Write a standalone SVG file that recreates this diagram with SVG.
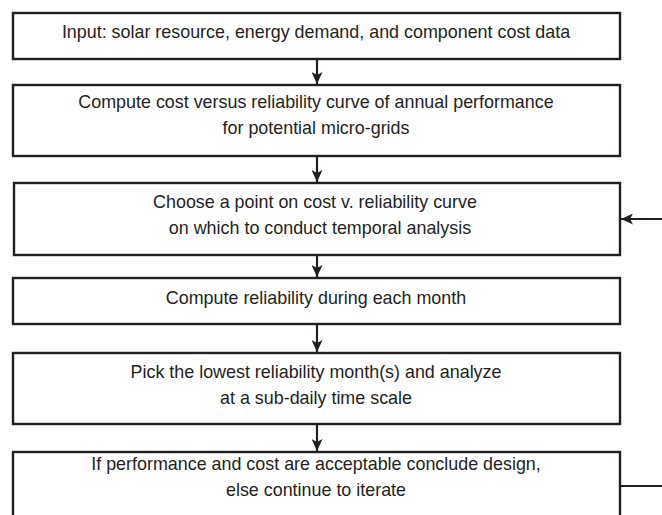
<svg xmlns="http://www.w3.org/2000/svg" width="662" height="515" viewBox="0 0 662 515">
  <style>
    .box { fill: #ffffff; stroke: #231f20; stroke-width: 2.4; }
    .label { font-family: "Liberation Sans", Arial, sans-serif; font-size: 17.9px; fill: #231f20; text-anchor: middle; }
    .wire { fill: none; stroke: #231f20; stroke-width: 2.2; }
  </style>
  <defs>
    <marker id="head" viewBox="0 0 12 11" refX="12" refY="5.5" markerWidth="12" markerHeight="11" markerUnits="userSpaceOnUse" orient="auto">
      <path d="M0,0 L12,5.5 L0,11 L3,5.5 Z" fill="#231f20"/>
    </marker>
  </defs>

  <rect width="662" height="515" fill="#ffffff"/>

  <g id="connectors">
    <line class="wire" x1="317" y1="59" x2="317" y2="84" marker-end="url(#head)"/>
    <line class="wire" x1="317" y1="156" x2="317" y2="182" marker-end="url(#head)"/>
    <line class="wire" x1="317" y1="255" x2="317" y2="277" marker-end="url(#head)"/>
    <line class="wire" x1="317" y1="324" x2="317" y2="352" marker-end="url(#head)"/>
    <line class="wire" x1="317" y1="424" x2="317" y2="451" marker-end="url(#head)"/>
    <!-- feedback loop: from the last step back to the point choice -->
    <path class="wire" d="M620,486 H690 V219 H621" marker-end="url(#head)"/>
  </g>

  <g id="input">
    <rect class="box" x="13" y="13" width="607" height="46"/>
    <text class="label" x="316" y="38">Input: solar resource, energy demand, and component cost data</text>
  </g>

  <g id="cost-curve">
    <rect class="box" x="13" y="85" width="607" height="71"/>
    <text class="label" x="316" y="108">Compute cost versus reliability curve of annual performance</text>
    <text class="label" x="316" y="134">for potential micro-grids</text>
  </g>

  <g id="choose-point">
    <rect class="box" x="14" y="183" width="606" height="72"/>
    <text class="label" x="315" y="208">Choose a point on cost v. reliability curve</text>
    <text class="label" x="320" y="234">on which to conduct temporal analysis</text>
  </g>

  <g id="monthly">
    <rect class="box" x="13" y="278" width="607" height="46"/>
    <text class="label" x="316" y="304">Compute reliability during each month</text>
  </g>

  <g id="lowest-month">
    <rect class="box" x="13" y="353" width="607" height="71"/>
    <text class="label" x="316" y="378">Pick the lowest reliability month(s) and analyze</text>
    <text class="label" x="316" y="404">at a sub-daily time scale</text>
  </g>

  <g id="conclude">
    <rect class="box" x="13" y="452" width="607" height="80"/>
    <text class="label" x="316" y="470">If performance and cost are acceptable conclude design,</text>
    <text class="label" x="316" y="496">else continue to iterate</text>
  </g>
</svg>
